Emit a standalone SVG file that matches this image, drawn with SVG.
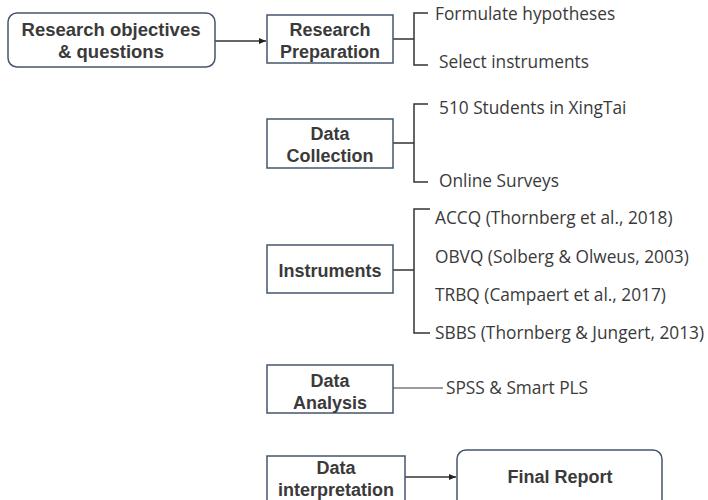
<svg xmlns="http://www.w3.org/2000/svg" width="708" height="500" viewBox="0 0 708 500">
<style>
.box{fill:#fff;stroke:#44566e;stroke-width:1.5}
.lbl{font-family:"Liberation Sans",Arial,sans-serif;font-weight:bold;font-size:18px;fill:#3a3a3a;text-anchor:middle}
.side{font-family:"Open Sans","Noto Sans",sans-serif;font-size:17.3px;fill:#3a3a3a}
.ln{fill:none;stroke:#333;stroke-width:1.5}
.gl{fill:none;stroke:#7a7a7a;stroke-width:1.5}
</style>
<defs>
<marker id="ah" markerWidth="8" markerHeight="8" refX="7" refY="4" orient="auto" markerUnits="userSpaceOnUse">
<path d="M0,1 L7,4 L0,7 Z" fill="#222"/>
</marker>
</defs>
<g id="connectors">
<line class="ln" x1="215" y1="41" x2="266" y2="41" marker-end="url(#ah)"/>
<path class="ln" d="M393,39 H414 M428,13 H414 V65 H428"/>
<path class="ln" d="M393,143 H414 M428,104 H414 V182 H428"/>
<path class="ln" d="M393,270 H414 M430,209 H414 V333 H430"/>
<line class="gl" x1="393" y1="388" x2="443" y2="388"/>
<line class="ln" x1="405" y1="477" x2="456" y2="477" marker-end="url(#ah)"/>
</g>
<g id="objectives">
<rect class="box" x="8" y="13" width="207" height="54" rx="9"/>
<text class="lbl" x="111" y="36" style="font-size:18.5px">Research objectives</text>
<text class="lbl" x="111" y="58" style="font-size:18.5px">&amp; questions</text>
</g>
<g id="preparation">
<rect class="box" x="267" y="15" width="126" height="48"/>
<text class="lbl" x="330" y="36">Research</text>
<text class="lbl" x="330" y="58">Preparation</text>
<text class="side" x="435" y="20">Formulate hypotheses</text>
<text class="side" x="439" y="68">Select instruments</text>
</g>
<g id="collection">
<rect class="box" x="267" y="119" width="126" height="49"/>
<text class="lbl" x="330" y="140">Data</text>
<text class="lbl" x="330" y="162">Collection</text>
<text class="side" x="439" y="114">510 Students in XingTai</text>
<text class="side" x="439" y="187">Online Surveys</text>
</g>
<g id="instruments">
<rect class="box" x="267" y="245" width="126" height="48"/>
<text class="lbl" x="330" y="277">Instruments</text>
<text class="side" x="435" y="224">ACCQ (Thornberg et al., 2018)</text>
<text class="side" x="435" y="263">OBVQ (Solberg &amp; Olweus, 2003)</text>
<text class="side" x="435" y="301">TRBQ (Campaert et al., 2017)</text>
<text class="side" x="435" y="339">SBBS (Thornberg &amp; Jungert, 2013)</text>
</g>
<g id="analysis">
<rect class="box" x="267" y="365" width="126" height="48"/>
<text class="lbl" x="330" y="387">Data</text>
<text class="lbl" x="330" y="409">Analysis</text>
<text class="side" x="446" y="394">SPSS &amp; Smart PLS</text>
</g>
<g id="interpretation">
<rect class="box" x="267" y="456" width="138" height="60"/>
<text class="lbl" x="336" y="474">Data</text>
<text class="lbl" x="336" y="496">interpretation</text>
</g>
<g id="report">
<rect class="box" x="457" y="450" width="205" height="70" rx="9"/>
<text class="lbl" x="560" y="483">Final Report</text>
</g>
</svg>
